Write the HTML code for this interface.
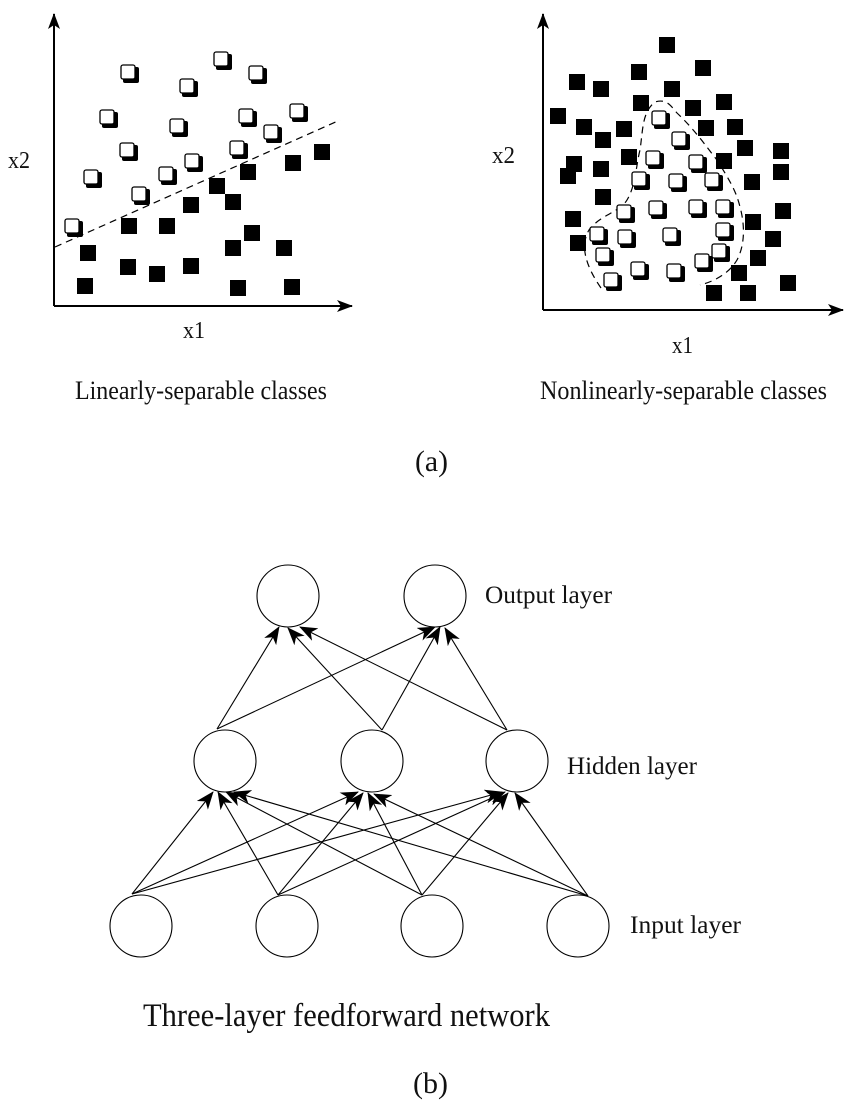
<!DOCTYPE html>
<html><head><meta charset="utf-8"><style>
html,body{margin:0;padding:0;background:#fff;}
svg{display:block;}
text{font-family:"Liberation Serif",serif;fill:#111;}
</style></head><body>
<svg width="850" height="1104" viewBox="0 0 850 1104" xmlns="http://www.w3.org/2000/svg">
<defs>
<marker id="big" markerWidth="16" markerHeight="12" refX="15" refY="6" orient="auto" markerUnits="userSpaceOnUse" viewBox="0 0 16 12">
<path d="M0,0 L16,6 L0,12 L4,6 Z" fill="#000"/>
</marker>
<marker id="net" markerWidth="18" markerHeight="14" refX="17" refY="7" orient="auto" markerUnits="userSpaceOnUse" viewBox="0 0 18 14">
<path d="M0,0 L18,7 L0,14 L5,7 Z" fill="#000"/>
</marker>
</defs>
<g stroke="#000" stroke-width="2" fill="none">
<line x1="54" y1="306" x2="54" y2="14" marker-end="url(#big)"/>
<line x1="54" y1="306" x2="352" y2="306" marker-end="url(#big)"/>
<line x1="543" y1="310" x2="543" y2="14" marker-end="url(#big)"/>
<line x1="543" y1="310" x2="843" y2="310" marker-end="url(#big)"/>
</g>
<line x1="55" y1="247" x2="340" y2="120" stroke="#000" stroke-width="1.2" stroke-dasharray="7,5"/>
<path d="M601,288 C585,265 580,245 589,230 C600,215 620,212 627,200 C636,185 636,165 640,150 C643,130 642,112 655,102 C668,98 672,108 677,113 C695,130 705,145 717,160 C728,178 736,190 740,207 C745,225 745,245 737,260 C728,275 712,282 700,285" stroke="#000" stroke-width="1.2" fill="none" stroke-dasharray="7,5"/>
<g fill="#000">
<rect x="314" y="144" width="16" height="16"/><rect x="285" y="155" width="16" height="16"/><rect x="240" y="164" width="16" height="16"/><rect x="209" y="178" width="16" height="16"/><rect x="225" y="194" width="16" height="16"/><rect x="183" y="197" width="16" height="16"/><rect x="121" y="218" width="16" height="16"/><rect x="159" y="218" width="16" height="16"/><rect x="244" y="225" width="16" height="16"/><rect x="225" y="240" width="16" height="16"/><rect x="276" y="240" width="16" height="16"/><rect x="80" y="245" width="16" height="16"/><rect x="120" y="259" width="16" height="16"/><rect x="149" y="266" width="16" height="16"/><rect x="183" y="258" width="16" height="16"/><rect x="77" y="278" width="16" height="16"/><rect x="230" y="280" width="16" height="16"/><rect x="284" y="279" width="16" height="16"/>
<rect x="659" y="37" width="16" height="16"/><rect x="695" y="60" width="16" height="16"/><rect x="631" y="64" width="16" height="16"/><rect x="569" y="74" width="16" height="16"/><rect x="593" y="81" width="16" height="16"/><rect x="664" y="81" width="16" height="16"/><rect x="633" y="95" width="16" height="16"/><rect x="685" y="100" width="16" height="16"/><rect x="716" y="94" width="16" height="16"/><rect x="550" y="108" width="16" height="16"/><rect x="576" y="119" width="16" height="16"/><rect x="616" y="121" width="16" height="16"/><rect x="698" y="120" width="16" height="16"/><rect x="727" y="119" width="16" height="16"/><rect x="595" y="132" width="16" height="16"/><rect x="737" y="140" width="16" height="16"/><rect x="773" y="143" width="16" height="16"/><rect x="621" y="149" width="16" height="16"/><rect x="566" y="156" width="16" height="16"/><rect x="560" y="168" width="16" height="16"/><rect x="593" y="161" width="16" height="16"/><rect x="716" y="153" width="16" height="16"/><rect x="773" y="164" width="16" height="16"/><rect x="744" y="174" width="16" height="16"/><rect x="595" y="189" width="16" height="16"/><rect x="775" y="203" width="16" height="16"/><rect x="565" y="211" width="16" height="16"/><rect x="745" y="214" width="16" height="16"/><rect x="570" y="235" width="16" height="16"/><rect x="765" y="231" width="16" height="16"/><rect x="750" y="250" width="16" height="16"/><rect x="731" y="265" width="16" height="16"/><rect x="706" y="285" width="16" height="16"/><rect x="740" y="285" width="16" height="16"/><rect x="780" y="275" width="16" height="16"/>
</g>
<g>
<g fill="#000">
<rect x="123" y="67" width="16" height="16" rx="2"/><rect x="216" y="54" width="16" height="16" rx="2"/><rect x="251" y="68" width="16" height="16" rx="2"/><rect x="182" y="81" width="16" height="16" rx="2"/><rect x="102" y="112" width="16" height="16" rx="2"/><rect x="172" y="121" width="16" height="16" rx="2"/><rect x="241" y="111" width="16" height="16" rx="2"/><rect x="292" y="106" width="16" height="16" rx="2"/><rect x="266" y="127" width="16" height="16" rx="2"/><rect x="122" y="145" width="16" height="16" rx="2"/><rect x="232" y="143" width="16" height="16" rx="2"/><rect x="187" y="156" width="16" height="16" rx="2"/><rect x="161" y="169" width="16" height="16" rx="2"/><rect x="86" y="172" width="16" height="16" rx="2"/><rect x="134" y="189" width="16" height="16" rx="2"/><rect x="67" y="221" width="16" height="16" rx="2"/>
<rect x="654" y="113" width="16" height="16" rx="2"/><rect x="674" y="134" width="16" height="16" rx="2"/><rect x="648" y="153" width="16" height="16" rx="2"/><rect x="691" y="157" width="16" height="16" rx="2"/><rect x="634" y="174" width="16" height="16" rx="2"/><rect x="671" y="176" width="16" height="16" rx="2"/><rect x="707" y="175" width="16" height="16" rx="2"/><rect x="619" y="207" width="16" height="16" rx="2"/><rect x="651" y="203" width="16" height="16" rx="2"/><rect x="691" y="202" width="16" height="16" rx="2"/><rect x="718" y="202" width="16" height="16" rx="2"/><rect x="592" y="229" width="16" height="16" rx="2"/><rect x="620" y="232" width="16" height="16" rx="2"/><rect x="665" y="230" width="16" height="16" rx="2"/><rect x="718" y="225" width="16" height="16" rx="2"/><rect x="598" y="250" width="16" height="16" rx="2"/><rect x="714" y="246" width="16" height="16" rx="2"/><rect x="697" y="256" width="16" height="16" rx="2"/><rect x="633" y="264" width="16" height="16" rx="2"/><rect x="669" y="266" width="16" height="16" rx="2"/><rect x="606" y="275" width="16" height="16" rx="2"/>
</g>
<g fill="#fff" stroke="#000" stroke-width="1.3" transform="translate(-2,-2)">
<rect x="123" y="67" width="14" height="14" rx="2"/><rect x="216" y="54" width="14" height="14" rx="2"/><rect x="251" y="68" width="14" height="14" rx="2"/><rect x="182" y="81" width="14" height="14" rx="2"/><rect x="102" y="112" width="14" height="14" rx="2"/><rect x="172" y="121" width="14" height="14" rx="2"/><rect x="241" y="111" width="14" height="14" rx="2"/><rect x="292" y="106" width="14" height="14" rx="2"/><rect x="266" y="127" width="14" height="14" rx="2"/><rect x="122" y="145" width="14" height="14" rx="2"/><rect x="232" y="143" width="14" height="14" rx="2"/><rect x="187" y="156" width="14" height="14" rx="2"/><rect x="161" y="169" width="14" height="14" rx="2"/><rect x="86" y="172" width="14" height="14" rx="2"/><rect x="134" y="189" width="14" height="14" rx="2"/><rect x="67" y="221" width="14" height="14" rx="2"/>
<rect x="654" y="113" width="14" height="14" rx="2"/><rect x="674" y="134" width="14" height="14" rx="2"/><rect x="648" y="153" width="14" height="14" rx="2"/><rect x="691" y="157" width="14" height="14" rx="2"/><rect x="634" y="174" width="14" height="14" rx="2"/><rect x="671" y="176" width="14" height="14" rx="2"/><rect x="707" y="175" width="14" height="14" rx="2"/><rect x="619" y="207" width="14" height="14" rx="2"/><rect x="651" y="203" width="14" height="14" rx="2"/><rect x="691" y="202" width="14" height="14" rx="2"/><rect x="718" y="202" width="14" height="14" rx="2"/><rect x="592" y="229" width="14" height="14" rx="2"/><rect x="620" y="232" width="14" height="14" rx="2"/><rect x="665" y="230" width="14" height="14" rx="2"/><rect x="718" y="225" width="14" height="14" rx="2"/><rect x="598" y="250" width="14" height="14" rx="2"/><rect x="714" y="246" width="14" height="14" rx="2"/><rect x="697" y="256" width="14" height="14" rx="2"/><rect x="633" y="264" width="14" height="14" rx="2"/><rect x="669" y="266" width="14" height="14" rx="2"/><rect x="606" y="275" width="14" height="14" rx="2"/>
</g>
</g>
<text x="8" y="168" font-size="24" textLength="22" lengthAdjust="spacingAndGlyphs">x2</text>
<text x="183" y="338" font-size="24" textLength="22" lengthAdjust="spacingAndGlyphs">x1</text>
<text x="75" y="399" font-size="26" textLength="252" lengthAdjust="spacingAndGlyphs">Linearly-separable classes</text>
<text x="492" y="163" font-size="24" textLength="23" lengthAdjust="spacingAndGlyphs">x2</text>
<text x="672" y="353" font-size="24" textLength="21" lengthAdjust="spacingAndGlyphs">x1</text>
<text x="540" y="399" font-size="26" textLength="287" lengthAdjust="spacingAndGlyphs">Nonlinearly-separable classes</text>
<text x="415" y="471" font-size="30" textLength="33" lengthAdjust="spacingAndGlyphs">(a)</text>
<g stroke="#000" stroke-width="1.1" fill="none">
<circle cx="288" cy="596" r="31"/><circle cx="435" cy="596" r="31"/>
<circle cx="225" cy="761" r="31"/><circle cx="372" cy="761" r="31"/><circle cx="517" cy="761" r="31"/>
<circle cx="141" cy="926" r="31"/><circle cx="287" cy="926" r="31"/><circle cx="432" cy="926" r="31"/><circle cx="578" cy="926" r="31"/>
</g>
<g stroke="#000" stroke-width="1.1" marker-end="url(#net)">
<line x1="217" y1="729" x2="279" y2="627"/>
<line x1="382" y1="730" x2="288" y2="628"/>
<line x1="507" y1="730" x2="300" y2="627"/>
<line x1="217" y1="729" x2="435" y2="627"/>
<line x1="382" y1="730" x2="440" y2="627"/>
<line x1="507" y1="730" x2="445" y2="628"/>
<line x1="132" y1="894" x2="213" y2="792"/>
<line x1="132" y1="894" x2="358" y2="792"/>
<line x1="132" y1="894" x2="502" y2="792"/>
<line x1="278" y1="895" x2="218" y2="792"/>
<line x1="278" y1="895" x2="363" y2="793"/>
<line x1="278" y1="895" x2="505" y2="792"/>
<line x1="422" y1="895" x2="226" y2="792"/>
<line x1="422" y1="895" x2="368" y2="793"/>
<line x1="422" y1="895" x2="508" y2="793"/>
<line x1="588" y1="896" x2="234" y2="792"/>
<line x1="588" y1="896" x2="374" y2="794"/>
<line x1="588" y1="896" x2="515" y2="793"/>
</g>
<text x="485" y="603" font-size="25" textLength="127" lengthAdjust="spacingAndGlyphs">Output layer</text>
<text x="567" y="774" font-size="25" textLength="130" lengthAdjust="spacingAndGlyphs">Hidden layer</text>
<text x="630" y="933" font-size="25" textLength="111" lengthAdjust="spacingAndGlyphs">Input layer</text>
<text x="143" y="1026" font-size="33" textLength="407" lengthAdjust="spacingAndGlyphs">Three-layer feedforward network</text>
<text x="413" y="1093" font-size="30" textLength="35" lengthAdjust="spacingAndGlyphs">(b)</text>
</svg>
</body></html>
